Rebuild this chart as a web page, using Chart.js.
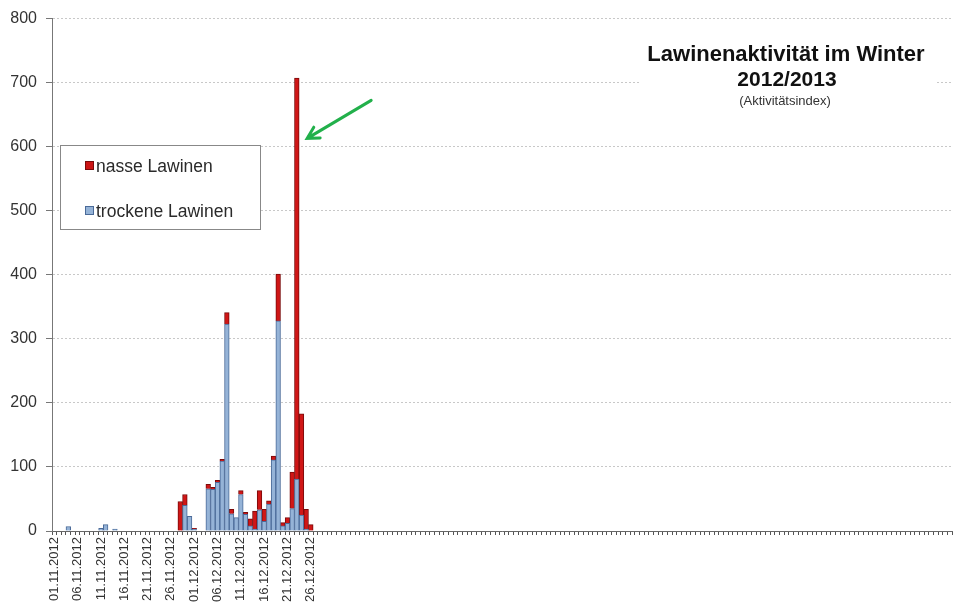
<!DOCTYPE html>
<html>
<head>
<meta charset="utf-8">
<script src="https://cdn.jsdelivr.net/npm/chart.js@4.4.0/dist/chart.umd.min.js"></script>
<style>
  html, body { margin: 0; padding: 0; background: #fff; }
  #wrap { width: 957px; height: 604px; position: relative; }
</style>
</head>
<body>
<div id="wrap"><canvas id="lawinen"></canvas></div>
<script>
// season axis: one category per day from 01.11.2012, dates written only for the filled part
const dayCount = 193;
const labeledDays = 56;
const days = [];
for (let i = 0; i < dayCount; i++) {
    if (i < labeledDays) {
        const d = new Date(2012, 10, 1 + i);
        days.push(String(d.getDate()).padStart(2, '0') + '.' + String(d.getMonth() + 1).padStart(2, '0') + '.' + d.getFullYear());
    } else {
        days.push('');
    }
}

// activity index per day (01.11. - 26.12.2012)
const trockene = [0, 0, 0, 7, 0, 0, 0, 0, 0, 0,
    4, 10, 0, 3, 0, 0, 0, 0, 0, 0,
    0, 0, 0, 0, 0, 0, 0, 0, 40, 23,
    3, 0, 0, 66, 65, 76, 109, 323, 27, 21,
    57, 26, 8, 3, 33, 15, 42, 111, 328, 8,
    12, 35, 81, 25, 3, 0];
const nasse = [0, 0, 0, 0, 0, 0, 0, 0, 0, 0,
    0, 0, 0, 0, 0, 0, 0, 0, 0, 0,
    0, 0, 0, 0, 0, 0, 0, 46, 17, 0,
    1, 0, 0, 7, 3, 3, 3, 18, 7, 0,
    6, 3, 11, 28, 30, 19, 5, 6, 73, 5,
    9, 57, 626, 158, 31, 10];

const yTicks = [0, 100, 200, 300, 400, 500, 600, 700, 800];
const peakDay = '22.12.2012';

const FONT = 'Arial, "Liberation Sans", sans-serif';

const overlay = {
    id: 'overlay',
    afterDraw(chart) {
        const c = chart.ctx;
        const xs = chart.scales.x, ys = chart.scales.y;
        c.save();

        // title box
        c.fillStyle = '#fff';
        c.fillRect(640, 40, 295, 74);
        c.fillStyle = '#111';
        c.textAlign = 'center';
        c.textBaseline = 'middle';
        c.font = 'bold 22px ' + FONT;
        c.fillText('Lawinenaktivität im Winter', 786, 55);
        c.font = 'bold 21px ' + FONT;
        c.fillText('2012/2013', 787, 80);
        c.font = '13px ' + FONT;
        c.fillStyle = '#333';
        c.fillText('(Aktivitätsindex)', 785, 101);

        // legend box
        c.fillStyle = '#fff';
        c.fillRect(60, 145, 201, 85);
        c.strokeStyle = '#888';
        c.lineWidth = 1;
        c.strokeRect(60.5, 145.5, 200, 84);
        c.textAlign = 'left';
        c.font = '17.5px ' + FONT;
        const items = [
            ['nasse Lawinen', '#cc1414', '#7a0a0a', 166],
            ['trockene Lawinen', '#95b3d7', '#4a6a98', 211]
        ];
        items.forEach(function (it) {
            c.fillStyle = it[1];
            c.fillRect(85, it[3] - 5, 9, 9);
            c.strokeStyle = it[2];
            c.strokeRect(85.5, it[3] - 4.5, 8, 8);
            c.fillStyle = '#2a2a2a';
            c.fillText(it[0], 96, it[3] + 1);
        });

        // green arrow pointing at the peak
        const tipX = xs.getPixelForValue(days.indexOf(peakDay)) + 15;
        const tipY = ys.getPixelForValue(613);
        const tailX = tipX + 64, tailY = tipY - 38;
        const ang = Math.atan2(tipY - tailY, tipX - tailX);
        c.strokeStyle = '#22b04b';
        c.lineWidth = 3;
        c.lineCap = 'round';
        c.beginPath();
        c.moveTo(tailX, tailY);
        c.lineTo(tipX, tipY);
        c.moveTo(tipX - 13 * Math.cos(ang - 0.5), tipY - 13 * Math.sin(ang - 0.5));
        c.lineTo(tipX, tipY);
        c.lineTo(tipX - 13 * Math.cos(ang + 0.5), tipY - 13 * Math.sin(ang + 0.5));
        c.stroke();
        c.restore();
    }
};

const config = {
    type: 'bar',
    data: {
        labels: days,
        datasets: [
            {
                label: 'trockene Lawinen',
                data: trockene,
                backgroundColor: '#95b3d7',
                borderColor: '#4a6a98',
                borderWidth: 1,
                barPercentage: 1,
                categoryPercentage: 1
            },
            {
                label: 'nasse Lawinen',
                data: nasse,
                backgroundColor: '#d01616',
                borderColor: '#7a0a0a',
                borderWidth: 1,
                barPercentage: 1,
                categoryPercentage: 1
            }
        ]
    },
    options: {
        responsive: true,
        maintainAspectRatio: false,
        animation: false,
        layout: { padding: { top: 17, right: 5, left: 0, bottom: 0 } },
        plugins: {
            legend: { display: false },
            tooltip: { enabled: false }
        },
        scales: {
            x: {
                stacked: true,
                grid: { drawOnChartArea: false, offset: true, tickLength: 4, tickColor: '#555' },
                border: { color: '#666' },
                ticks: {
                    autoSkip: false,
                    minRotation: 90,
                    maxRotation: 90,
                    padding: 2,
                    color: '#333',
                    font: { family: FONT, size: 13 },
                    callback: function (val, index) {
                        return index % 5 === 0 ? this.getLabelForValue(val) : '';
                    }
                },
                afterFit: function (scale) {
                    scale.height = 73;
                    scale.paddingRight = 0;
                    scale.paddingLeft = 0;
                }
            },
            y: {
                stacked: true,
                min: yTicks[0],
                max: yTicks[yTicks.length - 1],
                afterBuildTicks: function (scale) {
                    scale.ticks = yTicks.map(function (v) { return { value: v }; });
                },
                grid: { color: '#c8c8c8', tickLength: 6, tickColor: '#777' },
                border: { color: '#777', dash: [2, 2] },
                ticks: {
                    padding: 9,
                    color: '#333',
                    font: { family: FONT, size: 16 }
                },
                afterFit: function (scale) { scale.width = 52; }
            }
        }
    },
    plugins: [overlay]
};

new Chart(document.getElementById('lawinen'), config);
</script>
</body>
</html>
